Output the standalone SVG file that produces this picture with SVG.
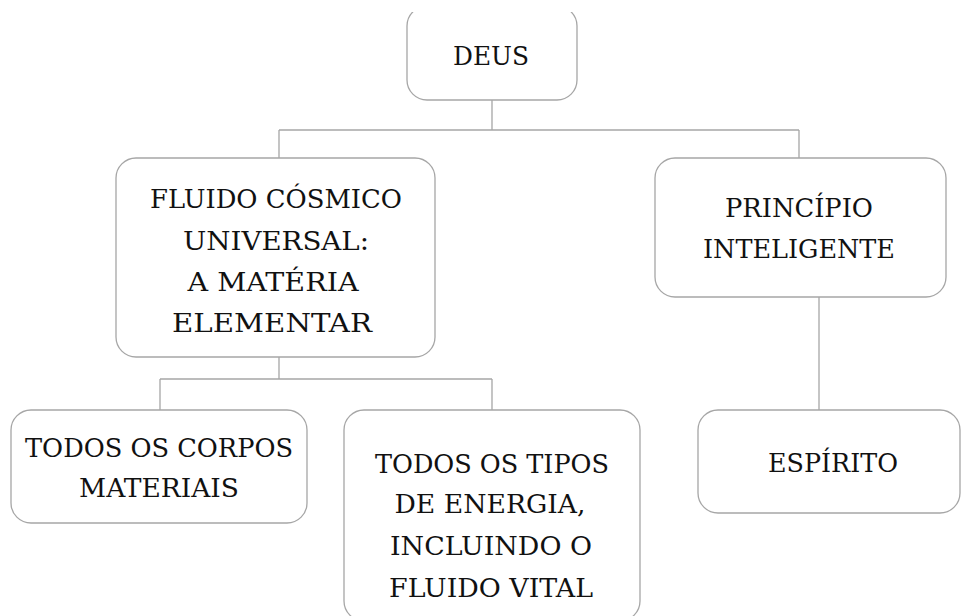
<svg xmlns="http://www.w3.org/2000/svg" width="961" height="616" viewBox="0 0 961 616">
<defs>
<style>
.box{fill:#fff;stroke:#a6a6a6;stroke-width:1.3}
.ln{fill:none;stroke:#a6a6a6;stroke-width:1.3}
.t{font-family:'DejaVu Serif','Liberation Serif',serif;font-size:26px;fill:#111;text-anchor:middle}
</style>
<clipPath id="topclip"><rect x="0" y="12" width="961" height="604"/></clipPath>
</defs>
<rect width="961" height="616" fill="#fff"/>
<g id="connectors">
<path class="ln" d="M492 100V130M279 130H799M279 130V158M799 130V158"/>
<path class="ln" d="M279 357V379M160 379H492M160 379V410M492 379V410"/>
<path class="ln" d="M819 297V410"/>
</g>
<g id="deus" clip-path="url(#topclip)">
<rect class="box" x="407" y="6" width="170" height="94" rx="20"/>
<text class="t" x="491" y="65" textLength="76" lengthAdjust="spacingAndGlyphs">DEUS</text>
</g>
<g id="fluido">
<rect class="box" x="116" y="158" width="319" height="199" rx="20"/>
<text class="t" x="276" y="208" textLength="252" lengthAdjust="spacingAndGlyphs">FLUIDO CÓSMICO</text>
<text class="t" x="276" y="250" textLength="186" lengthAdjust="spacingAndGlyphs">UNIVERSAL:</text>
<text class="t" x="273" y="291" textLength="171" lengthAdjust="spacingAndGlyphs">A MATÉRIA</text>
<text class="t" x="272" y="332" textLength="200" lengthAdjust="spacingAndGlyphs">ELEMENTAR</text>
</g>
<g id="principio">
<rect class="box" x="655" y="158" width="291" height="139" rx="20"/>
<text class="t" x="799" y="217" textLength="148" lengthAdjust="spacingAndGlyphs">PRINCÍPIO</text>
<text class="t" x="799" y="258" textLength="192" lengthAdjust="spacingAndGlyphs">INTELIGENTE</text>
</g>
<g id="corpos">
<rect class="box" x="11" y="410" width="296" height="113" rx="20"/>
<text class="t" x="159" y="457" textLength="268" lengthAdjust="spacingAndGlyphs">TODOS OS CORPOS</text>
<text class="t" x="159" y="497" textLength="160" lengthAdjust="spacingAndGlyphs">MATERIAIS</text>
</g>
<g id="energia">
<rect class="box" x="344" y="410" width="296" height="211" rx="20"/>
<text class="t" x="492" y="473" textLength="234" lengthAdjust="spacingAndGlyphs">TODOS OS TIPOS</text>
<text class="t" x="490" y="513" textLength="191" lengthAdjust="spacingAndGlyphs">DE ENERGIA,</text>
<text class="t" x="491" y="555" textLength="202" lengthAdjust="spacingAndGlyphs">INCLUINDO O</text>
<text class="t" x="491" y="597" textLength="204" lengthAdjust="spacingAndGlyphs">FLUIDO VITAL</text>
</g>
<g id="espirito">
<rect class="box" x="698" y="410" width="262" height="103" rx="20"/>
<text class="t" x="833" y="472" textLength="130" lengthAdjust="spacingAndGlyphs">ESPÍRITO</text>
</g>
</svg>
